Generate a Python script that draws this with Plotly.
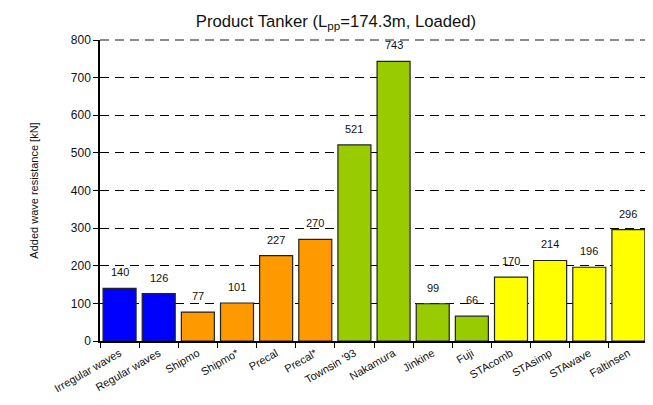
import plotly.graph_objects as go

categories = ["Irregular waves", "Regular waves", "Shipmo", "Shipmo*", "Precal", "Precal*",
              "Townsin '93", "Nakamura", "Jinkine", "Fuji", "STAcomb", "STAsimp", "STAwave", "Faltinsen"]
values = [140, 126, 77, 101, 227, 270, 521, 743, 99, 66, 170, 214, 196, 296]
colors = ["#0000FF", "#0000FF", "#FF9900", "#FF9900", "#FF9900", "#FF9900",
          "#99CC00", "#99CC00", "#99CC00", "#99CC00", "#FFFF00", "#FFFF00", "#FFFF00", "#FFFF00"]
y_ticks = [0, 100, 200, 300, 400, 500, 600, 700, 800]

font = "Liberation Sans, Arial, sans-serif"

fig = go.Figure()
fig.add_trace(go.Bar(
    x=categories, y=values,
    marker=dict(color=colors, line=dict(color="#222222", width=1.2)),
    hoverinfo="skip",
))

for c, v in zip(categories, values):
    fig.add_annotation(x=c, y=v, text=str(v), showarrow=False, yshift=16,
                       font=dict(family=font, size=11, color="#111111"))

# page body adds an 8px offset; margins compensate for it
fig.update_layout(
    width=653, height=405,
    margin=dict(l=92, r=13, t=32, b=72, autoexpand=False),
    paper_bgcolor="white", plot_bgcolor="white",
    bargap=0.157,
    showlegend=False,
    title=dict(text="Product Tanker (L<sub>pp</sub>=174.3m, Loaded)", x=328 / 653, xanchor="center",
               xref="container", y=1 - 13 / 405, yref="container", yanchor="middle",
               font=dict(family=font, size=16.7, color="#111111")),
    font=dict(family=font, size=11, color="#111111"),
)
fig.update_xaxes(
    automargin=False,
    tickangle=-30, tickson="boundaries", ticks="outside", ticklen=5, tickcolor="black",
    showline=True, linecolor="black", linewidth=1.5, showgrid=False,
    tickfont=dict(family=font, size=11),
)
fig.update_yaxes(
    automargin=False,
    range=[0, 800], tickvals=y_ticks, ticks="outside", ticklen=5, tickcolor="black",
    showline=True, linecolor="black", linewidth=1.5, mirror=False,
    showgrid=True, gridcolor="black", gridwidth=1, griddash="9px,6px", zeroline=False,
    title=dict(text="Added wave resistance [kN]", font=dict(family=font, size=11), standoff=30),
    tickfont=dict(family=font, size=12),
)
fig.add_shape(type="line", xref="paper", yref="paper", x0=1, x1=1, y0=0, y1=1,
              line=dict(color="black", width=1.5))
fig.add_shape(type="line", xref="paper", yref="paper", x0=0, x1=1, y0=1, y1=1,
              line=dict(color="#666666", width=1.5, dash="9px,6px"))

fig.write_html("out.html")
